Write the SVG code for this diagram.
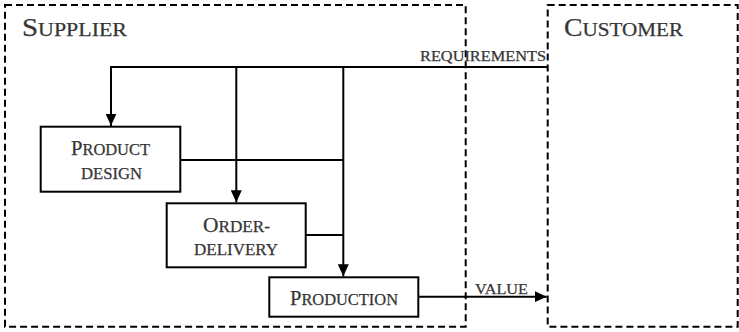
<svg xmlns="http://www.w3.org/2000/svg" width="739" height="332" viewBox="0 0 739 332">
  <style>
    .zone { fill: none; stroke: #000; stroke-width: 2; stroke-dasharray: 7 4; }
    .box { fill: #fff; stroke: #000; stroke-width: 2; }
    .conn { fill: none; stroke: #000; stroke-width: 2; }
    .lbl { font-family: "Liberation Serif", "Times New Roman", serif; fill: #363636; stroke: #363636; stroke-width: 0.25; }
  </style>
  <defs>
    <marker id="arrow" markerUnits="userSpaceOnUse" markerWidth="12" markerHeight="11" refX="12" refY="5.5" orient="auto">
      <path d="M0,0 L12,5.5 L0,11 z" fill="#000"/>
    </marker>
  </defs>
  <rect width="739" height="332" fill="#fff"/>

  <g id="supplier">
    <rect class="zone" x="5" y="5" width="460.7" height="321.7"/>
    <text class="lbl" x="22" y="36" textLength="105" lengthAdjust="spacingAndGlyphs"><tspan font-size="25">S</tspan><tspan font-size="19">UPPLIER</tspan></text>
  </g>

  <g id="customer">
    <rect class="zone" x="547.7" y="5" width="190" height="321.7"/>
    <text class="lbl" x="564" y="36" textLength="119" lengthAdjust="spacingAndGlyphs"><tspan font-size="25">C</tspan><tspan font-size="19">USTOMER</tspan></text>
  </g>

  <g id="connectors">
    <path class="conn" d="M547.7,67 H111 V126"/>
    <path class="conn" d="M111,67 V125.7" marker-end="url(#arrow)"/>
    <path class="conn" d="M236.3,67 V202.3" marker-end="url(#arrow)"/>
    <path class="conn" d="M343.3,67 V276.3" marker-end="url(#arrow)"/>
    <path class="conn" d="M180.3,160 H343.3"/>
    <path class="conn" d="M305.7,235 H343.3"/>
    <path class="conn" d="M418.3,296.7 H546.7" marker-end="url(#arrow)"/>
    <text class="lbl" x="420" y="61" font-size="14.5" textLength="126" lengthAdjust="spacingAndGlyphs">REQUIREMENTS</text>
    <text class="lbl" x="475" y="293.5" font-size="14.5" textLength="53" lengthAdjust="spacingAndGlyphs">VALUE</text>
  </g>

  <g id="product-design">
    <rect class="box" x="40.7" y="126.7" width="139.6" height="65"/>
    <text class="lbl" x="71" y="155" textLength="79" lengthAdjust="spacingAndGlyphs"><tspan font-size="20">P</tspan><tspan font-size="16">RODUCT</tspan></text>
    <text class="lbl" x="81" y="178.5" font-size="16" textLength="61" lengthAdjust="spacingAndGlyphs">DESIGN</text>
  </g>

  <g id="order-delivery">
    <rect class="box" x="166.7" y="203.3" width="139" height="64"/>
    <text class="lbl" x="203" y="231.5" textLength="67" lengthAdjust="spacingAndGlyphs"><tspan font-size="20">O</tspan><tspan font-size="16">RDER-</tspan></text>
    <text class="lbl" x="194" y="255" font-size="16" textLength="84" lengthAdjust="spacingAndGlyphs">DELIVERY</text>
  </g>

  <g id="production">
    <rect class="box" x="269.3" y="277.3" width="149" height="39.4"/>
    <text class="lbl" x="290" y="305" textLength="108" lengthAdjust="spacingAndGlyphs"><tspan font-size="20">P</tspan><tspan font-size="16">RODUCTION</tspan></text>
  </g>
</svg>
